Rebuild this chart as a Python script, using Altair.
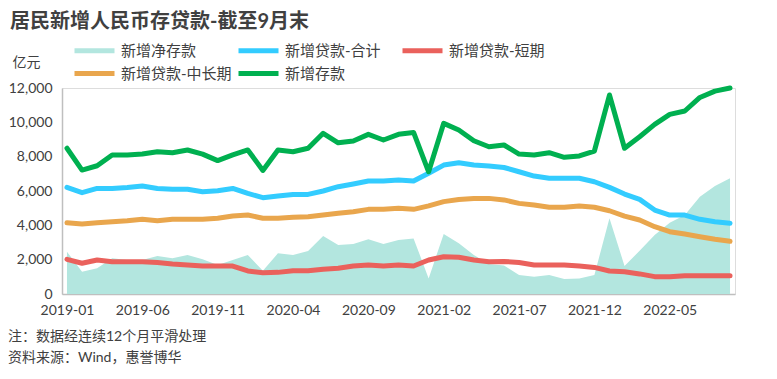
import altair as alt
import pandas as pd

# months 2019-01 .. 2022-09
months = [f"{y}-{m:02d}" for y in range(2019, 2023) for m in range(1, 13)][:45]

net_deposit = [2460, 1300, 1500, 2080, 1980, 1980, 2210, 2080, 2270, 2020, 1690, 1980, 2270,
               1350, 2370, 2270, 2500, 3380, 2850, 2910, 3190, 2910, 3150, 3240, 910,
               3490, 2950, 2270, 1750, 1660, 1110, 1010, 1110, 870, 910, 1110, 4410,
               1630, 2520, 3440, 4150, 4600, 5670, 6290, 6740]
loan_total = [6210, 5900, 6150, 6150, 6210, 6290, 6150, 6100, 6100, 5960, 6020, 6150, 5860,
              5610, 5710, 5800, 5800, 6000, 6250, 6410, 6580, 6580, 6640, 6580, 7030,
              7510, 7650, 7510, 7450, 7370, 7120, 6870, 6740, 6740, 6740, 6540, 6210,
              5820, 5510, 4890, 4600, 4600, 4350, 4210, 4120]
loan_short = [2020, 1790, 1980, 1880, 1880, 1880, 1830, 1750, 1690, 1630, 1630, 1630, 1340,
              1240, 1260, 1360, 1360, 1440, 1500, 1630, 1690, 1630, 1690, 1630, 1980,
              2170, 2140, 1980, 1880, 1900, 1830, 1690, 1690, 1690, 1630, 1550, 1340,
              1300, 1170, 1010, 1010, 1070, 1070, 1070, 1070]
loan_long = [4150, 4080, 4150, 4210, 4270, 4350, 4270, 4350, 4350, 4350, 4410, 4540, 4600,
             4410, 4410, 4470, 4500, 4600, 4700, 4790, 4930, 4930, 4990, 4930, 5130,
             5380, 5510, 5570, 5570, 5480, 5280, 5180, 5050, 5050, 5130, 5050, 4850,
             4540, 4310, 3920, 3630, 3490, 3340, 3190, 3070]
deposit = [8490, 7220, 7470, 8100, 8100, 8150, 8290, 8230, 8390, 8150, 7770, 8100, 8390,
           7200, 8390, 8290, 8490, 9360, 8810, 8910, 9300, 8970, 9300, 9410, 7120,
           9940, 9550, 8930, 8580, 8680, 8150, 8100, 8230, 7960, 8040, 8330, 11590,
           8490, 9160, 9880, 10460, 10660, 11450, 11820, 12000]

series_names = ["新增净存款", "新增贷款-合计", "新增贷款-短期", "新增贷款-中长期", "新增存款"]
series_colors = ["#b3e6df", "#33ccff", "#ea615c", "#e9a64d", "#00b050"]
x_ticks = ["2019-01", "2019-06", "2019-11", "2020-04", "2020-09", "2021-02", "2021-07", "2021-12", "2022-05"]
y_ticks = [0, 2000, 4000, 6000, 8000, 10000, 12000]

title_text = "居民新增人民币存贷款-截至9月末"
note1 = "注：数据经连续12个月平滑处理"
note2 = "资料来源：Wind，惠誉博华"

FONT = "Lato, 'Noto Sans CJK SC', sans-serif"
TXT = "#404040"

area_df = pd.DataFrame({"month": months, "value": net_deposit})
line_rows = []
for name, vals in zip(series_names[1:], [loan_total, loan_short, loan_long, deposit]):
    for m, v in zip(months, vals):
        line_rows.append({"month": m, "value": v, "series": name})
line_df = pd.DataFrame(line_rows)

x_enc = alt.X("month:O", sort=months,
              scale=alt.Scale(type="point", padding=0.33),
              axis=alt.Axis(values=x_ticks, labelAngle=0, title=None, ticks=False, tickSize=0,
                            labelPadding=9, labelFontSize=14, labelColor=TXT, labelFont=FONT,
                            domainColor="#bfbfbf", domainWidth=1.5, grid=False))
y_enc = alt.Y("value:Q",
              scale=alt.Scale(domain=[0, 12000], nice=False),
              axis=alt.Axis(values=y_ticks, format=",.0f", title="亿元", titleAngle=0,
                            titleX=-36, titleY=-26, titleAlign="center", titleBaseline="middle",
                            titleFontSize=14, titleFontWeight="normal", titleColor=TXT, titleFont=FONT,
                            ticks=False, tickSize=0, labelPadding=10, labelFontSize=14,
                            labelColor=TXT, labelFont=FONT,
                            domainColor="#bfbfbf", domainWidth=1.5, grid=False))

area = alt.Chart(area_df).mark_area(color=series_colors[0], opacity=1).encode(x=x_enc, y=y_enc)

lines = alt.Chart(line_df).mark_line(strokeWidth=5, strokeCap="round", strokeJoin="round").encode(
    x=x_enc, y=y_enc,
    color=alt.Color("series:N",
                    scale=alt.Scale(domain=series_names, range=series_colors),
                    sort=series_names,
                    legend=alt.Legend(orient="none", legendX=10, legendY=-50, columns=3,
                                      direction="horizontal", title=None, gridAlign="all",
                                      symbolType="M-1,0L3,0", symbolSize=400, symbolStrokeWidth=5,
                                      labelFontSize=15, labelFont=FONT, labelColor=TXT,
                                      labelOffset=24, columnPadding=-4, rowPadding=-1,
                                      padding=0, labelLimit=200)),
)

def text_layer(txt, xv, yv, size, weight="normal"):
    return alt.Chart(pd.DataFrame({"t": [txt]})).mark_text(
        align="left", baseline="middle", fontSize=size, fontWeight=weight, font=FONT, color=TXT
    ).encode(text="t:N", x=alt.value(xv), y=alt.value(yv))

chart = alt.layer(
    area, lines,
    text_layer(title_text, -52, -66, 20, "bold"),
    text_layer(note1, -54, 249, 14),
    text_layer(note2, -54, 270, 14),
).properties(
    width=673, height=206,
    autosize=alt.AutoSizeParams(type="none"),
    padding={"left": 54, "top": 80, "right": 32, "bottom": 77},
).configure_view(stroke=None).configure(background="white")

chart.save("out.html", embed_options={"renderer": "svg", "actions": False})
